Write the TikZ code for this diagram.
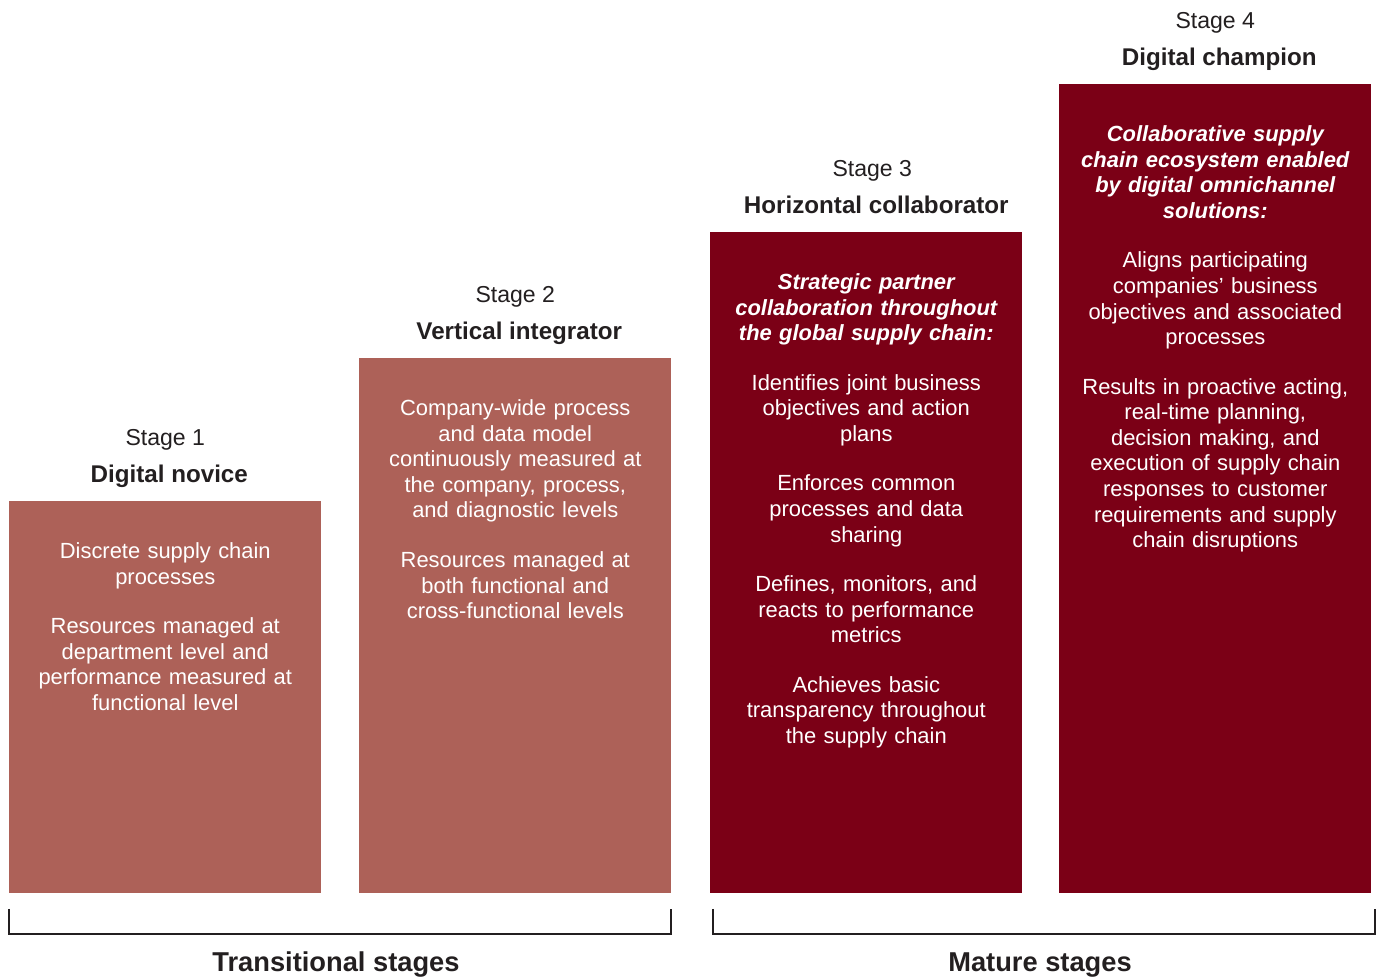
\documentclass[tikz,border=0pt]{standalone}
\usepackage{fontspec}
\setmainfont{Liberation Sans}
\usetikzlibrary{positioning}

\definecolor{transred}{HTML}{AD6158}
\definecolor{maturered}{HTML}{7B0016}
\definecolor{inkgrey}{HTML}{231F20}

\tikzset{
	stagebox/.style={anchor=south west, minimum width=7.8cm, inner sep=0pt},
	boxtext/.style={text=white, text width=7.4cm, align=center, inner sep=0pt,
		font=\fontsize{15.6pt}{18.2pt}\selectfont},
	stagename/.style={text=inkgrey, inner sep=0pt, text height=12pt, text depth=3.5pt,
		font=\fontsize{17.2pt}{20pt}\selectfont\bfseries},
	stagenum/.style={text=inkgrey, inner sep=0pt, text height=12pt, text depth=3.5pt,
		font=\fontsize{16.4pt}{19pt}\selectfont},
	groupname/.style={text=inkgrey, inner sep=0pt,
		font=\fontsize{19.4pt}{22pt}\selectfont\bfseries},
	bracket/.style={draw=inkgrey, line width=0.9pt}
}

\begin{document}
\begin{tikzpicture}
		\useasboundingbox (0,0) rectangle (34.5,24.425);

		% stage boxes
		\node(s1) [stagebox, fill=transred, minimum height=9.8cm] at (0.225,2.1) {};
		\node(s2) [stagebox, fill=transred, minimum height=13.375cm] at (8.975,2.1) {};
		\node(s3) [stagebox, fill=maturered, minimum height=16.525cm] at (17.75,2.1) {};
		\node(s4) [stagebox, fill=maturered, minimum height=20.225cm] at (26.475,2.1) {};

		% titles
		\node(t1) [stagename, above=0.33cm of s1, xshift=0.1cm] {Digital novice};
		\node(t2) [stagename, above=0.33cm of s2, xshift=0.1cm] {Vertical integrator};
		\node(t3) [stagename, above=0.33cm of s3, xshift=0.25cm] {Horizontal collaborator};
		\node(t4) [stagename, above=0.33cm of s4, xshift=0.1cm] {Digital champion};

		\node(n1) [stagenum, above=0.35cm of t1, xshift=-0.1cm] {Stage 1};
		\node(n2) [stagenum, above=0.35cm of t2, xshift=-0.1cm] {Stage 2};
		\node(n3) [stagenum, above=0.35cm of t3, xshift=-0.1cm] {Stage 3};
		\node(n4) [stagenum, above=0.35cm of t4, xshift=-0.1cm] {Stage 4};

		% box contents
		\node(c1) [boxtext, below=1.05cm of s1.north, anchor=north] {Discrete supply chain\\ processes\\[17pt]
			Resources managed at\\ department level and\\ performance measured at\\ functional level};
		\node(c2) [boxtext, below=1.05cm of s2.north, anchor=north] {Company-wide process\\ and data model\\ continuously measured at\\ the company, process,\\ and diagnostic levels\\[17pt]
			Resources managed at\\ both functional and\\ cross-functional levels};
		\node(c3) [boxtext, below=1.05cm of s3.north, anchor=north] {{\bfseries\itshape Strategic partner\\ collaboration throughout\\ the global supply chain:}\\[17pt]
			Identifies joint business\\ objectives and action\\ plans\\[17pt]
			Enforces common\\ processes and data\\ sharing\\[17pt]
			Defines, monitors, and\\ reacts to performance\\ metrics\\[17pt]
			Achieves basic\\ transparency throughout\\ the supply chain};
		\node(c4) [boxtext, below=1.05cm of s4.north, anchor=north] {{\bfseries\itshape Collaborative supply\\ chain ecosystem enabled\\ by digital omnichannel\\ solutions:}\\[17pt]
			Aligns participating\\ companies’ business\\ objectives and associated\\ processes\\[17pt]
			Results in proactive acting,\\ real-time planning,\\ decision making, and\\ execution of supply chain\\ responses to customer\\ requirements and supply\\ chain disruptions};

		% brackets
		\coordinate(la) at (0.225,1.7);
		\coordinate(lb) at (0.225,1.075);
		\coordinate(lc) at (16.775,1.075);
		\coordinate(ld) at (16.775,1.7);
		\coordinate(ra) at (17.825,1.7);
		\coordinate(rb) at (17.825,1.075);
		\coordinate(rc) at (34.375,1.075);
		\coordinate(rd) at (34.375,1.7);

		\draw[bracket] (la) -- (lb) -- (lc) -- (ld);
		\draw[bracket] (ra) -- (rb) -- (rc) -- (rd);

		\node(trans) [groupname] at (8.4,0.3) {Transitional stages};
		\node(mature) [groupname] at (26.0,0.3) {Mature stages};
	\end{tikzpicture}
\end{document}
